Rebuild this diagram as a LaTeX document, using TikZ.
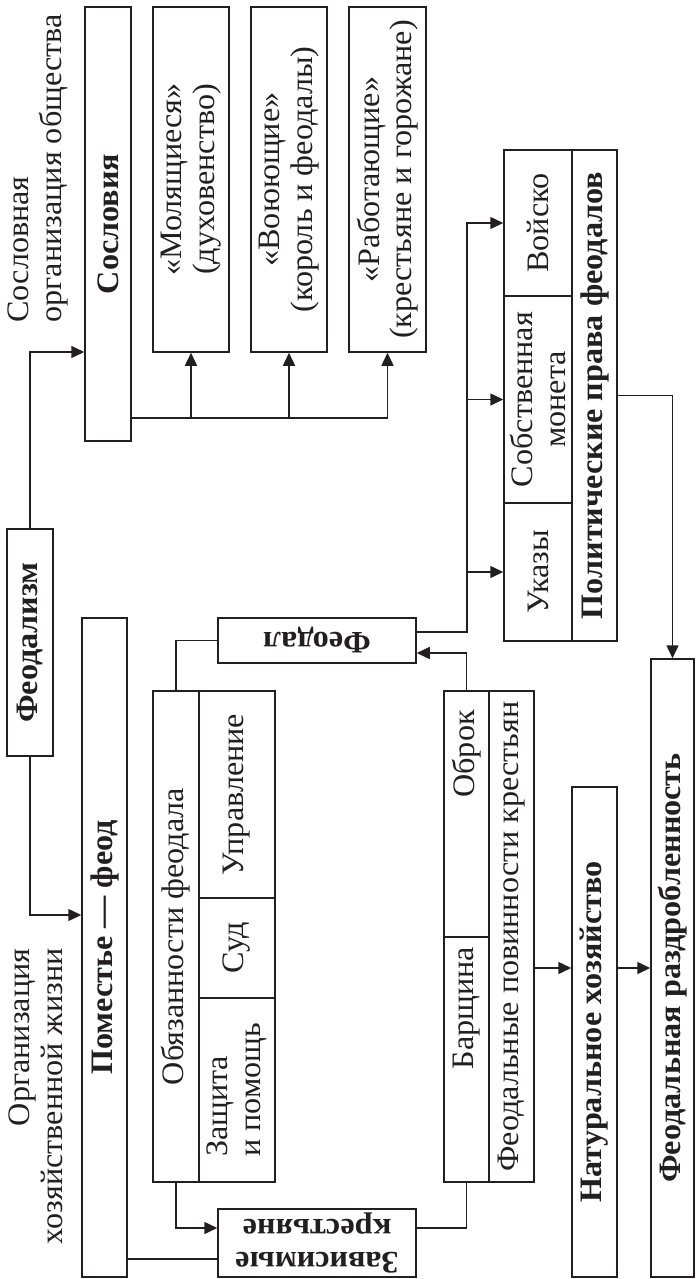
\documentclass[tikz,border=0pt]{standalone}
\usepackage{fontspec}
\setmainfont{Liberation Serif}[FakeStretch=1.03]
\usepackage{tikz}
\usetikzlibrary{calc,arrows.meta}
\definecolor{ink}{HTML}{231F20}
\tikzset{
  box/.style={draw=ink, line width=0.6pt, inner sep=0pt, align=center, text=ink, font=\fontsize{12.5}{13}\selectfont},
  up/.style={box, rotate=90},
  flip/.style={box, rotate=180},
  hd/.style={font=\fontsize{12.5}{13}\selectfont\bfseries},
  line/.style={draw=ink, line width=0.6pt},
  arr/.style={line, -{Triangle[length=5.2pt,width=4.8pt]}},
  lab/.style={rotate=90, inner sep=0pt, text=ink, font=\fontsize{12.5}{13}\selectfont},
}

\begin{document}
\begin{tikzpicture}[x=0.4pt,y=-0.4pt]
  \useasboundingbox (0,0) rectangle (695,1279);
  % estates
  \node[up, hd, minimum width=173.6pt, minimum height=18.4pt] (sosl) at (108,224) {Сословия};
  \node[up, minimum width=138pt, minimum height=30.4pt] (mol) at (191,179.5) {«Молящиеся»\\(духовенство)};
  \node[up, minimum width=138pt, minimum height=30.4pt] (voy) at (289,179.5) {«Воюющие»\\(король и феодалы)};
  \node[up, minimum width=138pt, minimum height=30.8pt] (rab) at (387.5,179.5) {«Работающие»\\(крестьяне и горожане)};
  \node[lab, anchor=west, align=left] (tsosl) at (38,323) {Сословная\\организация общества};
  % manor
  \node[up, hd, minimum width=90.8pt, minimum height=18.4pt] (feod) at (30,642.5) {Феодализм};
  \node[up, hd, minimum width=263.6pt, minimum height=18pt] (pom) at (104.5,947.5) {Поместье — феод};
  \node[lab, anchor=east, align=right] (tpom) at (36,948) {Организация\\хозяйственной жизни};
  \node[flip, hd, minimum width=79.2pt, minimum height=18pt] (feodal) at (317,640.5) {Феодал};
  \node[flip, hd, minimum width=79.2pt, minimum height=27.2pt] (zav) at (317,1243) {Зависимые\\крестьяне};
  \node[up, minimum width=196.4pt, minimum height=18.4pt] (obz) at (176,936.5) {Обязанности феодала};
  \node[up, minimum width=82.8pt, minimum height=30.4pt] (upr) at (237,794.5) {Управление};
  \node[up, minimum width=40pt, minimum height=30.4pt] (sud) at (237,948) {Суд};
  \node[up, minimum width=73.6pt, minimum height=30.4pt, align=left] (zasch) at (237,1090) {Защита\\и помощь};
  \node[up, minimum width=98.4pt, minimum height=18pt, text width=83pt, inner xsep=7.6pt, align=right] (obrok) at (466.5,814) {Оброк};
  \node[up, minimum width=98pt, minimum height=18pt, text width=90pt, inner xsep=4pt, align=right] (barsch) at (466.5,1059.5) {Барщина};
  \node[up, minimum width=196.4pt, minimum height=18pt] (povl) at (511.5,936.5) {Феодальные повинности крестьян};
  % rights
  \node[up, minimum width=58.4pt, minimum height=27.2pt] (voisko) at (538,223) {Войско};
  \node[up, minimum width=82.8pt, minimum height=27.2pt] (moneta) at (538,399.5) {Собственная\\монета};
  \node[up, minimum width=55.2pt, minimum height=27.2pt] (ukazy) at (538,572) {Указы};
  \node[up, hd, minimum width=196.4pt, minimum height=18pt] (poll) at (594.5,395.5) {Политические права феодалов};
  \node[up, hd, minimum width=196pt, minimum height=18pt] (nat) at (594.5,1032) {Натуральное хозяйство};
  \node[up, hd, minimum width=247.2pt, minimum height=17.2pt] (razdr) at (672.5,968) {Феодальная раздробленность};
  \coordinate (rb) at (467,632);

  \draw[arr] (feod.east) |- (sosl.north |- 0,352);
  \draw[arr] (feod.west) |- (pom.north |- 0,915);
  \draw[arr] (sosl.south |- 0,418) -| (rab.west);
  \draw[arr] (mol.west |- 0,418) -- (mol.west);
  \draw[arr] (voy.west |- 0,418) -- (voy.west);
  \draw[line] (feodal.east) -| (obz.east);
  \draw[arr] (obz.west) |- (zav.east |- 0,1228);
  \draw[line] (pom.south |- 0,1259) -- (zav.east |- 0,1259);
  \draw[line] (zav.west |- 0,1228) -| (barsch.west);
  \draw[arr] (obrok.east) |- (feodal.west |- 0,653);
  \draw[arr] (feodal.west |- rb) -| (rb |- voisko.north) -- (voisko.north);
  \draw[arr] (rb |- moneta.north) -- (moneta.north);
  \draw[arr] (rb |- ukazy.north) -- (ukazy.north);
  \draw[arr] (poll.south) -| (razdr.east);
  \draw[arr] (povl.south |- 0,968) -- (nat.north |- 0,968);
  \draw[arr] (nat.south |- 0,968) -- (razdr.north |- 0,968);
\end{tikzpicture}
\end{document}
